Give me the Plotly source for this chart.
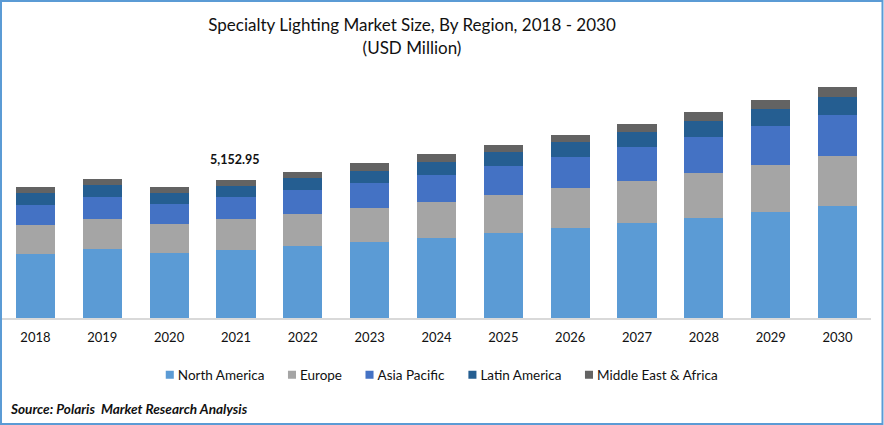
import plotly.graph_objects as go

years = ["2018","2019","2020","2021","2022","2023","2024","2025","2026","2027","2028","2029","2030"]
north_america = [2390,2576,2427,2539,2688,2838,2987,3174,3361,3547,3734,3958,4182]
europe = [1083,1120,1083,1158,1195,1270,1344,1419,1494,1568,1680,1755,1867]
asia_pacific = [747,821,747,821,896,934,1008,1083,1158,1270,1344,1456,1531]
latin_america = [448,448,411,411,448,448,485,523,560,560,597,635,672]
mea = [224,224,224,224,224,299,299,261,261,299,336,336,373]

series = [
    ("North America", north_america, "#5B9BD5"),
    ("Europe", europe, "#A5A5A5"),
    ("Asia Pacific", asia_pacific, "#4472C4"),
    ("Latin America", latin_america, "#255E91"),
    ("Middle East &amp; Africa", mea, "#636363"),
]
FONT = "Lato"
W, H, L, R, T, B = 884, 425, 2, 12.5, 50, 107
PW, PH = W - L - R, H - T - B
px = lambda v: (v - L) / PW
py = lambda v: (H - B - v) / PH

fig = go.Figure()
for name, vals, col in series:
    fig.add_bar(x=years, y=vals, name=name, marker=dict(color=col, line_width=0))

fig.update_layout(
    barmode="stack", bargap=0.415, width=W, height=H,
    margin=dict(l=L, r=R, t=T, b=B, autoexpand=False),
    paper_bgcolor="white", plot_bgcolor="white",
    font=dict(family=FONT, size=13, color="#111111"),
    title=dict(text="Specialty Lighting Market Size, By Region, 2018 - 2030<br>(USD Million)",
               x=412/W, xanchor="center", yref="container", y=0.926, yanchor="top",
               font=dict(family=FONT, size=17, color="#111111")),
    legend=dict(orientation="h", x=455/W, xanchor="center", y=-0.155, yanchor="top",
                font=dict(family=FONT, size=13.5), traceorder="normal", itemwidth=30),
    showlegend=True,
    shapes=[dict(type="rect", xref="paper", yref="paper", x0=px(1), x1=px(883), y0=py(424), y1=py(1),
                 line=dict(color="#5B9BD5", width=2), fillcolor="rgba(0,0,0,0)", layer="below")],
)
fig.update_xaxes(type="category", categoryorder="array", categoryarray=years, range=[-0.5, 12.5],
                 showline=True, linecolor="#D9D9D9", linewidth=1.5,
                 ticks="", showgrid=False, tickfont=dict(family=FONT, size=13, color="#111111"), ticklabelstandoff=7)
fig.update_yaxes(range=[0,10000], visible=False, showgrid=False)

fig.add_annotation(text="<b>5,152.95</b>", x=years.index("2021"), y=5152.95, yshift=11, xshift=-1, yanchor="bottom",
                   showarrow=False, font=dict(family=FONT, size=12.5, color="#111111"))
fig.add_annotation(text="<b><i>Source: Polaris  Market Research Analysis</i></b>", xref="paper", yref="paper",
                   x=px(8), xanchor="left", y=py(409), yanchor="middle",
                   showarrow=False, font=dict(family=FONT, size=13.6, color="#111111"))

post = """
var gd = document.getElementById('{plot_id}');
document.body.style.margin = '0';
function fixLegend() {
  gd.querySelectorAll('.legend .traces').forEach(function (item, i) {
    var m = /translate\\(([-\\d.]+)[ ,]+([-\\d.]+)\\)/.exec(item.getAttribute('transform'));
    if (m && !item.dataset.fixed) {
      item.setAttribute('transform', 'translate(' + (parseFloat(m[1]) - i * 9.5) + ',' + m[2] + ')');
      item.dataset.fixed = '1';
    }
    var s = item.querySelector('.legendsymbols');
    if (s) s.setAttribute('transform', 'translate(32,0) scale(0.67) translate(-20,0)');
  });
}
gd.on('plotly_afterplot', fixLegend);
fixLegend();
"""
fig.write_html("out.html", post_script=post, config={"displayModeBar": False})
